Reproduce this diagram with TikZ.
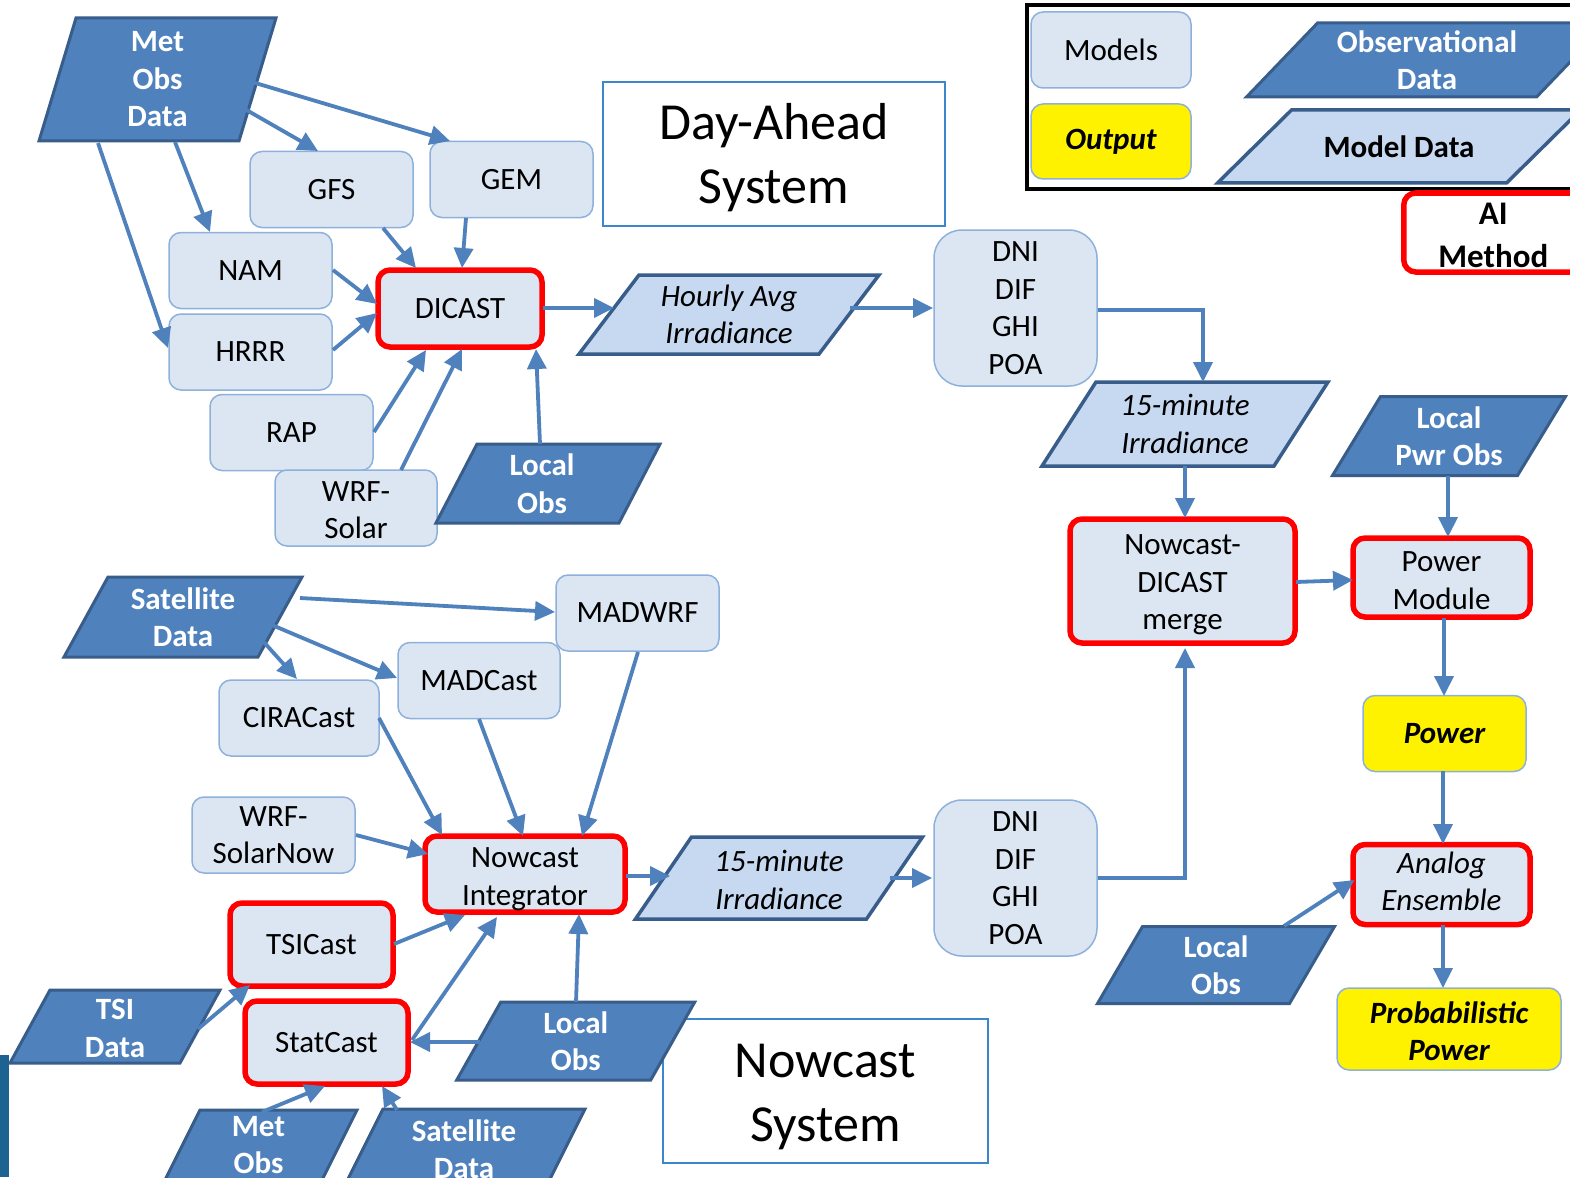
\documentclass[tikz,border=0pt]{standalone}
\usepackage{fontspec}
\setmainfont{Carlito}
\usetikzlibrary{arrows.meta,calc}
\definecolor{modfill}{HTML}{DCE6F2}
\definecolor{modline}{HTML}{8EB1DC}
\definecolor{obsfill}{HTML}{4F81BD}
\definecolor{obsline}{HTML}{385D8A}
\definecolor{datafill}{HTML}{C6D9F1}
\definecolor{arrowc}{HTML}{4F81BD}
\definecolor{boxline}{HTML}{3C86CC}
\definecolor{sidebar}{HTML}{1D6391}
\newcommand{\shifttext}[2]{\raisebox{#1}[\height][\depth]{#2}}
\tikzset{
 txt/.style={font=\fontsize{31}{37.5}\selectfont, align=center, inner sep=0pt},
 model/.style={txt, draw=modline, line width=1.5pt, fill=modfill, rounded corners=12pt, minimum width=163pt, minimum height=76pt},
 aibox/.style={model, draw=red, line width=5.5pt},
 outbox/.style={model, fill=yellow, font=\fontsize{31}{37.5}\selectfont\bfseries\itshape},
 obsshape/.style={fill=obsfill, draw=obsline, line width=3pt},
 datashape/.style={fill=datafill, draw=obsline, line width=3.5pt},
 obstext/.style={txt, text=white, font=\fontsize{31}{37.5}\selectfont\bfseries},
 datatext/.style={txt, font=\fontsize{31}{37.5}\selectfont\itshape},
 arr/.style={draw=arrowc, line width=3.8pt, -{Triangle[length=20pt,width=19pt]}},
 sysbox/.style={draw=boxline, line width=1.5pt, align=center, inner sep=0pt, font=\fontsize{52}{64}\selectfont},
}
% parallelogram: shape style, text style, name, cx, cy, w, h, slant, text
\newcommand{\pgm}[9]{%
 \draw[#1] ({#4-#6/2+#8/2},{#5-#7/2}) -- ({#4+#6/2+#8/2},{#5-#7/2}) -- ({#4+#6/2-#8/2},{#5+#7/2}) -- ({#4-#6/2-#8/2},{#5+#7/2}) -- cycle;
 \node[#2] (#3) at (#4,#5) {#9};}
\begin{document}
\begin{tikzpicture}[x=1pt,y=-1pt]
\useasboundingbox (0,0) rectangle (1570,1177);
\clip (0,0) rectangle (1570,1177);
\fill[white] (0,0) rectangle (1570,1177);
\fill[sidebar] (0,1055) rectangle (9,1177);

% legend
\draw[line width=4pt] (1027,5) rectangle (1600,189);
\node[model, minimum width=160pt] (lmodels) at (1111,50) {Models};
\node[outbox, minimum width=160pt, minimum height=75pt] (lout) at (1111,141.5) {Output};
\pgm{obsshape}{obstext}{lobsdata}{1427}{60}{290}{74}{71}{Observational\\Data}
\pgm{datashape}{txt,font=\fontsize{31}{37.5}\selectfont\bfseries}{lmoddata}{1399}{146.5}{289}{73}{74}{Model Data}
\node[draw=red, line width=5.5pt, fill=white, rounded corners=12pt, minimum width=189pt, minimum height=79pt, align=center, inner sep=0pt, font=\fontsize{33}{43}\selectfont\bfseries, anchor=west] (lai) at (1401,232.5) {\hspace*{-10pt}\shifttext{-3pt}{AI}\\\hspace*{-10pt}\shifttext{-3pt}{Method}};

% system titles
\node[sysbox, minimum width=342pt, minimum height=144pt] (dayahead) at (774,154) {\shifttext{-4pt}{Day-Ahead}\\\shifttext{-4pt}{System}};
\node[sysbox, minimum width=325pt, minimum height=144pt] (nowsys) at (825.5,1091) {\shifttext{-6pt}{Nowcast}\\\shifttext{-6pt}{System}};

% day-ahead part
\pgm{obsshape}{obstext}{metobs}{157.5}{79.5}{200}{123}{37}{Met\\Obs\\Data}
\node[model] (gfs) at (331.5,189.5) {GFS};
\node[model] (gem) at (511.5,179.5) {GEM};
\node[model] (nam) at (250.5,270.5) {NAM};
\node[model] (hrrr) at (250.5,352) {HRRR};
\node[aibox, minimum width=164pt, minimum height=77pt] (dicast) at (460,308.5) {DICAST};
\node[model] (rap) at (291.5,432.5) {RAP};
\node[model, minimum width=162pt] (wrfsolar) at (356,508) {\shifttext{-2pt}{WRF-}\\\shifttext{-2pt}{Solar}};
\pgm{obsshape}{obstext,xshift=-6pt}{lobs1}{548}{483.5}{183}{79}{41}{Local\\Obs}
\pgm{datashape}{datatext}{hourly}{729}{314.5}{240}{79}{60}{Hourly Avg\\Irradiance}
\node[model, rounded corners=28pt, minimum height=156pt] (dni1) at (1015.5,308) {DNI\\DIF\\GHI\\POA};
\pgm{datashape}{datatext}{min15a}{1185}{424}{232}{84}{54}{15-minute\\Irradiance}
\pgm{obsshape}{obstext}{lpwr}{1449}{436}{185}{79}{48}{Local\\Pwr Obs}
\node[aibox, minimum width=225pt, minimum height=124pt] (merge) at (1182.5,581) {\shifttext{-4pt}{Nowcast-}\\\shifttext{-4pt}{DICAST}\\\shifttext{-4pt}{merge}};
\node[aibox, minimum width=177pt, minimum height=79pt] (pmod) at (1441.5,577.5) {\shifttext{-3pt}{Power}\\\shifttext{-3pt}{Module}};
\node[outbox] (power) at (1444.5,733.5) {Power};
\node[aibox, minimum width=177pt, minimum height=80pt, font=\fontsize{31}{37.5}\selectfont\itshape] (analog) at (1441.5,884.5) {\shifttext{3pt}{Analog}\\\shifttext{3pt}{Ensemble}};
\node[outbox, minimum width=224pt, minimum height=82pt] (prob) at (1449,1029) {\shifttext{-2pt}{Probabilistic}\\\shifttext{-2pt}{Power}};
\pgm{obsshape}{obstext}{lobs3}{1216}{965}{192}{77}{45}{Local\\Obs}

% nowcast part
\node[model, rounded corners=28pt, minimum height=156pt] (dni2) at (1015.5,878) {DNI\\DIF\\GHI\\POA};
\pgm{datashape}{datatext}{min15b}{779}{878}{231}{82}{56}{\shifttext{-2pt}{15-minute}\\\shifttext{-2pt}{Irradiance}}
\node[aibox, minimum width=200pt, minimum height=76pt] (nint) at (525,874) {\shifttext{-5pt}{Nowcast}\\\shifttext{-5pt}{Integrator}};
\pgm{obsshape}{obstext}{sat1}{183}{617}{194}{80}{44}{Satellite\\Data}
\node[model] (madwrf) at (637.5,613) {MADWRF};
\node[model, minimum width=162pt] (madcast) at (479,680.5) {MADCast};
\node[model, minimum width=160pt] (ciracast) at (299,718) {CIRACast};
\node[model] (wrfnow) at (273.5,835) {WRF-\\SolarNow};
\node[aibox, minimum height=83pt] (tsicast) at (311.5,944.5) {TSICast};
\node[aibox, minimum height=83pt] (statcast) at (326.5,1042.5) {StatCast};
\pgm{obsshape}{obstext,yshift=-2pt}{tsi}{115}{1026.5}{170}{73}{40}{TSI\\Data}
\pgm{obsshape}{obstext}{lobs2}{575.75}{1041}{194}{78}{44}{Local\\Obs}
\pgm{obsshape}{obstext,yshift=5pt}{metobs2}{258.5}{1150}{157}{80}{40}{Met\\Obs}
\pgm{obsshape}{obstext}{sat2}{464}{1149}{202}{80}{40}{Satellite\\Data}

% connectors: day-ahead
\draw[arr] ($(metobs)+(94.5,2.5)$) -- ($(gem)+(-61.5,-38.5)$);
\draw[arr] ($(metobs)+(85.5,28.5)$) -- ($(gfs)+(-13.5,-38.5)$);
\draw[arr] ($(metobs)+(17.5,62.5)$) -- ($(nam)+(-40.5,-38.5)$);
\draw[arr] ($(metobs)+(-59.5,63.5)$) -- ($(hrrr)+(-82.5,-4)$);
\draw[arr] ($(gfs)+(51.5,38.5)$) -- ($(dicast)+(-44,-40.5)$);
\draw[arr] ($(gem)+(-45.5,38.5)$) -- ($(dicast)+(2,-40.5)$);
\draw[arr] ($(nam)+(82.5,-0.5)$) -- ($(dicast)+(-83,-4.5)$);
\draw[arr] ($(hrrr)+(82.5,-2)$) -- ($(dicast)+(-83,4.5)$);
\draw[arr] ($(rap)+(82.5,-0.5)$) -- ($(dicast)+(-34,41.5)$);
\draw[arr] ($(wrfsolar)+(45,-38)$) -- ($(dicast)+(2,40.5)$);
\draw[arr] ($(lobs1)+(-2,-39.5)$) -- ($(dicast)+(76,40.5)$);
\draw[arr] ($(dicast)+(83,-0.5)$) -- ($(hourly)+(-115,-6.5)$);
\draw[arr] ($(hourly)+(121,-6.5)$) -- ($(dni1)+(-82.5,0)$);
\draw[arr] ($(dni1)+(82.5,2)$) -| ($(min15a)+(18,-42)$);
\draw[arr] ($(min15a)+(0,42)$) -- ($(merge)+(2.5,-63)$);
\draw[arr] ($(lpwr)+(-1,40)$) -- ($(pmod)+(6.5,-40.5)$);
\draw[arr] ($(merge)+(113.5,1)$) -- ($(pmod)+(-88.5,2.5)$);
\draw[arr] ($(pmod)+(2.5,40.5)$) -- ($(power)+(-0.5,-37.5)$);
\draw[arr] ($(power)+(-1.5,37.5)$) -- ($(analog)+(1.5,-40.5)$);
\draw[arr] ($(analog)+(1.5,40.5)$) -- ($(prob)+(-6,-41)$);
\draw[arr] ($(lobs3)+(68,-39)$) -- ($(analog)+(-87,-4.5)$);

% connectors: nowcast
\draw[arr] ($(dni2)+(82.5,0)$) -| ($(merge)+(2.5,67)$);
\draw[arr] ($(min15b)+(111,0)$) -- ($(dni2)+(-83.5,0)$);
\draw[arr] ($(nint)+(101,2)$) -- ($(min15b)+(-109,-2)$);
\draw[arr] ($(sat1)+(117,-19)$) -- ($(madwrf)+(-82.5,-1)$);
\draw[arr] ($(sat1)+(89,8)$) -- ($(madcast)+(-82,-2.5)$);
\draw[arr] ($(sat1)+(79,23)$) -- ($(ciracast)+(-2,-39)$);
\draw[arr] ($(madwrf)+(0.5,39)$) -- ($(nint)+(57,-38)$);
\draw[arr] ($(madcast)+(0,38.5)$) -- ($(nint)+(-2,-38)$);
\draw[arr] ($(ciracast)+(80,0)$) -- ($(nint)+(-83,-39)$);
\draw[arr] ($(wrfnow)+(82.5,0)$) -- ($(nint)+(-97,-20)$);
\draw[arr] ($(tsicast)+(82.5,-0.5)$) -- ($(nint)+(-60,41)$);
\draw[arr] ($(statcast)+(85.5,-2.5)$) -- ($(nint)+(-28,43)$);
\draw[arr] ($(lobs2)+(0.25,-39)$) -- ($(nint)+(54,40)$);
\draw[arr] ($(lobs2)+(-95.75,1)$) -- ($(statcast)+(83.5,-0.5)$);
\draw[arr] ($(tsi)+(83,0.5)$) -- ($(tsicast)+(-61.5,40.5)$);
\draw[arr] ($(metobs2)+(3.5,-33)$) -- ($(statcast)+(-1.5,43.5)$);
\draw[arr] ($(sat2)+(-67,-39)$) -- ($(statcast)+(55.5,43.5)$);
\end{tikzpicture}
\end{document}
